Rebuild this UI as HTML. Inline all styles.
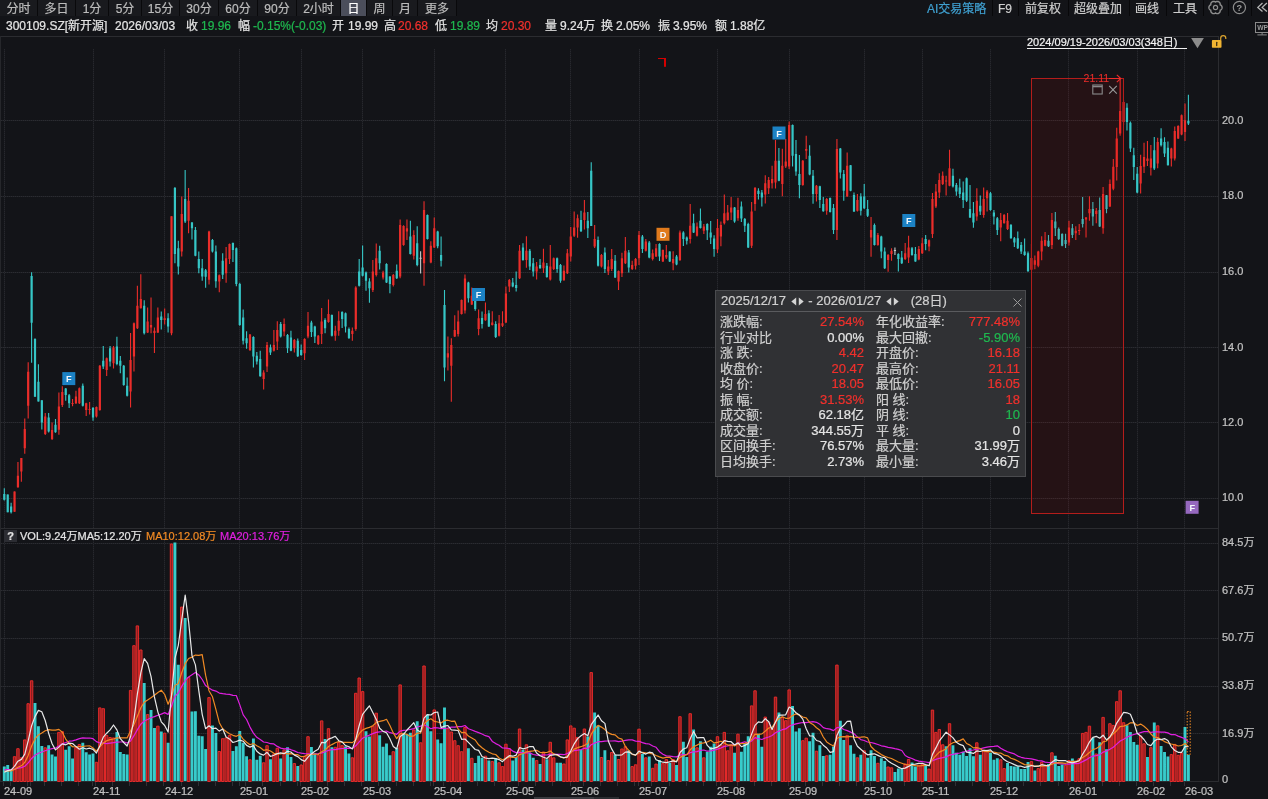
<!DOCTYPE html>
<html lang="zh"><head><meta charset="utf-8"><title>300109.SZ</title>
<style>
html,body{margin:0;padding:0;}
body{width:1268px;height:799px;overflow:hidden;background:#131418;position:relative;font-family:"Liberation Sans","Noto Sans CJK SC",sans-serif;color:#e4e4e4;-webkit-text-stroke:0.22px currentColor;}
#tabs{position:absolute;left:0;top:0;height:16px;width:457px;background:#09090b;}
.tab{position:absolute;top:0;height:16px;line-height:16px;font-size:12px;text-align:center;background:#191a1e;color:#bcbcbc;white-space:nowrap;box-sizing:border-box;padding-top:1px;}
.tab.sel{background:#4b4e5b;color:#fff;}
.inf{position:absolute;top:18px;height:16px;line-height:16px;font-size:12px;white-space:nowrap;}
.tb{position:absolute;top:1px;height:16px;line-height:16px;font-size:12px;white-space:nowrap;}
.tsep{position:absolute;top:0;width:1px;height:16px;background:#08080a;}
.rng{position:absolute;font-size:11px;line-height:11px;height:11px;padding-right:3px;color:#f2f2f2;border-bottom:1px solid #f2f2f2;white-space:nowrap;}
#chart{position:absolute;left:0;top:0;}
.ax{position:absolute;font-size:11px;line-height:14px;height:14px;color:#c2c2c2;white-space:nowrap;}
.q{position:absolute;left:4px;top:530px;width:13px;height:12px;background:#2c2d33;color:#e4e4e4;font-size:11px;font-weight:bold;line-height:12px;text-align:center;}
.lg{position:absolute;top:529px;height:14px;line-height:14px;font-size:11px;white-space:nowrap;}
#pop{position:absolute;left:715px;top:290px;width:309px;height:185px;background:#303134;border:1px solid #4a4b4e;font-size:13px;color:#cfcfcf;}
.ph{position:absolute;left:5px;top:2px;height:16px;line-height:16px;white-space:nowrap;color:#d0d0d0;}
.ar{vertical-align:-0.5px;margin:0 1px;}
.px{position:absolute;right:3.5px;top:7px;}
.pl{position:absolute;left:4px;right:4px;top:20px;height:1px;background:#5a5b5e;}
.pr{position:absolute;left:0;width:309px;height:16px;line-height:16px;white-space:nowrap;}
.pr span{position:absolute;top:0;}
.pr .a{left:4px;}
.pr .b{right:161px;}
.pr .c{left:160px;}
.pr .d{right:5px;}

#root{position:absolute;left:0;top:0;width:1268px;height:799px;overflow:hidden;will-change:transform;}

</style></head>
<body>
<div id="root">
<div id="tabs">
<div class="tab" style="left:0px;width:37px">分时</div>
<div class="tab" style="left:38px;width:37px">多日</div>
<div class="tab" style="left:76px;width:32px">1分</div>
<div class="tab" style="left:109px;width:32px">5分</div>
<div class="tab" style="left:142px;width:37px">15分</div>
<div class="tab" style="left:180px;width:38px">30分</div>
<div class="tab" style="left:219px;width:38px">60分</div>
<div class="tab" style="left:258px;width:38px">90分</div>
<div class="tab" style="left:297px;width:43px">2小时</div>
<div class="tab sel" style="left:341px;width:25px">日</div>
<div class="tab" style="left:367px;width:25px">周</div>
<div class="tab" style="left:393px;width:24px">月</div>
<div class="tab" style="left:418px;width:38px">更多</div>
</div>
<div class="inf" style="left:6px;color:#e4e4e4">300109.SZ[新开源]</div>
<div class="inf" style="left:115px;color:#e4e4e4">2026/03/03</div>
<div class="inf" style="left:186px;color:#e4e4e4">收</div>
<div class="inf" style="left:201px;color:#1fb84f">19.96</div>
<div class="inf" style="left:238px;color:#e4e4e4">幅</div>
<div class="inf" style="left:253px;color:#1fb84f">-0.15%(-0.03)</div>
<div class="inf" style="left:332px;color:#e4e4e4">开</div>
<div class="inf" style="left:348px;color:#e4e4e4">19.99</div>
<div class="inf" style="left:384px;color:#e4e4e4">高</div>
<div class="inf" style="left:398px;color:#f0302c">20.68</div>
<div class="inf" style="left:435px;color:#e4e4e4">低</div>
<div class="inf" style="left:450px;color:#1fb84f">19.89</div>
<div class="inf" style="left:486px;color:#e4e4e4">均</div>
<div class="inf" style="left:501px;color:#f0302c">20.30</div>
<div class="inf" style="left:545px;color:#e4e4e4">量</div>
<div class="inf" style="left:560px;color:#e4e4e4">9.24万</div>
<div class="inf" style="left:601px;color:#e4e4e4">换</div>
<div class="inf" style="left:616px;color:#e4e4e4">2.05%</div>
<div class="inf" style="left:658px;color:#e4e4e4">振</div>
<div class="inf" style="left:673px;color:#e4e4e4">3.95%</div>
<div class="inf" style="left:715px;color:#e4e4e4">额</div>
<div class="inf" style="left:730px;color:#e4e4e4">1.88亿</div>
<div class="tb" style="left:927px;color:#3f9fcf">AI交易策略</div>
<div class="tb" style="left:998px;color:#cecece">F9</div>
<div class="tb" style="left:1025px;color:#cecece">前复权</div>
<div class="tb" style="left:1074px;color:#cecece">超级叠加</div>
<div class="tb" style="left:1135px;color:#cecece">画线</div>
<div class="tb" style="left:1173px;color:#cecece">工具</div>
<div class="tsep" style="left:992px"></div>
<div class="tsep" style="left:1018px"></div>
<div class="tsep" style="left:1068px"></div>
<div class="tsep" style="left:1129px"></div>
<div class="tsep" style="left:1166px"></div>
<div class="tsep" style="left:1203px"></div>
<div class="tsep" style="left:1228px"></div>
<div class="tsep" style="left:1251px"></div>
<div class="rng" style="left:1027px;top:37px">2024/09/19-2026/03/03(348日)&nbsp;&nbsp;</div>
<svg id="chart" width="1268" height="799" viewBox="0 0 1268 799" shape-rendering="crispEdges">
<path d="M0 36.5H1218.5V781.5" stroke="#2b2c30" fill="none"/>
<path d="M0 528.5H1218" stroke="#2b2c30" fill="none"/>
<path d="M0 781.5H1218" stroke="#2b2c30" fill="none"/>
<path d="M0.5 36V781" stroke="#26272b" fill="none"/>
<path d="M1 498.5H1218M1 422.5H1218M1 347.5H1218M1 272.5H1218M1 196.5H1218M1 120.5H1218M1 733.5H1218M1 686.5H1218M1 638.5H1218M1 590.5H1218M1 543.5H1218" stroke="#1e1f24" fill="none"/>
<path d="M1 498.5H1218M1 422.5H1218M1 347.5H1218M1 272.5H1218M1 196.5H1218M1 120.5H1218M1 733.5H1218M1 686.5H1218M1 638.5H1218M1 590.5H1218M1 543.5H1218" stroke="#2b2c31" stroke-dasharray="1 1" fill="none"/>
<path d="M4.5 49V528M4.5 530V781M93.5 49V528M93.5 530V781M164.5 49V528M164.5 530V781M239.5 49V528M239.5 530V781M301.5 49V528M301.5 530V781M362.5 49V528M362.5 530V781M434.5 49V528M434.5 530V781M505.5 49V528M505.5 530V781M570.5 49V528M570.5 530V781M639.5 49V528M639.5 530V781M717.5 49V528M717.5 530V781M789.5 49V528M789.5 530V781M864.5 49V528M864.5 530V781M922.5 49V528M922.5 530V781M990.5 49V528M990.5 530V781M1068.5 49V528M1068.5 530V781M1137.5 49V528M1137.5 530V781M1184.5 49V528M1184.5 530V781" stroke="#1b1c21" fill="none"/>
<path d="M4.5 49V528M4.5 530V781M93.5 49V528M93.5 530V781M164.5 49V528M164.5 530V781M239.5 49V528M239.5 530V781M301.5 49V528M301.5 530V781M362.5 49V528M362.5 530V781M434.5 49V528M434.5 530V781M505.5 49V528M505.5 530V781M570.5 49V528M570.5 530V781M639.5 49V528M639.5 530V781M717.5 49V528M717.5 530V781M789.5 49V528M789.5 530V781M864.5 49V528M864.5 530V781M922.5 49V528M922.5 530V781M990.5 49V528M990.5 530V781M1068.5 49V528M1068.5 530V781M1137.5 49V528M1137.5 530V781M1184.5 49V528M1184.5 530V781" stroke="#27282d" stroke-dasharray="1 1" fill="none"/>
<path d="M3.5 782V786M10.5 782V786M27.5 782V786M30.5 782V786M44.5 782V786M61.5 782V786M78.5 782V786M92.5 782V786M95.5 782V786M112.5 782V786M129.5 782V786M146.5 782V786M163.5 782V786M181.5 782V786M198.5 782V786M215.5 782V786M232.5 782V786M239.5 782V786M245.5 782V786M262.5 782V786M280.5 782V786M297.5 782V786M300.5 782V786M310.5 782V786M327.5 782V786M344.5 782V786M361.5 782V786M378.5 782V786M396.5 782V786M413.5 782V786M430.5 782V786M433.5 782V786M443.5 782V786M460.5 782V786M477.5 782V786M494.5 782V786M505.5 782V786M518.5 782V786M535.5 782V786M552.5 782V786M570.5 782V786M583.5 782V786M600.5 782V786M617.5 782V786M634.5 782V786M638.5 782V786M651.5 782V786M669.5 782V786M686.5 782V786M703.5 782V786M716.5 782V786M720.5 782V786M737.5 782V786M754.5 782V786M771.5 782V786M788.5 782V786M805.5 782V786M822.5 782V786M839.5 782V786M856.5 782V786M863.5 782V786M870.5 782V786M887.5 782V786M904.5 782V786M921.5 782V786M938.5 782V786M955.5 782V786M972.5 782V786M989.5 782V786M1006.5 782V786M1023.5 782V786M1040.5 782V786M1058.5 782V786M1068.5 782V786M1085.5 782V786M1102.5 782V786M1119.5 782V786M1136.5 782V786M1153.5 782V786M1170.5 782V786M1184.5 782V786" stroke="#303136" fill="none"/>
<rect x="534" y="797" width="85" height="2" fill="#2c2d31"/><rect x="534" y="797" width="60" height="2" fill="#3a3b40"/>
<g shape-rendering="auto">
<path d="M14.54 491.5V511.8M17.95 461.9V487.8M21.36 457.9V481.8M24.77 418.6V453.7M28.19 362.2V418.6M45.25 413.0V434.9M52.07 422.6V439.9M58.90 392.4V434.8M62.31 386.2V406.9M72.55 399.0V406.2M75.96 390.7V404.0M79.37 387.4V404.0M86.20 402.7V416.0M89.61 401.9V414.5M96.43 406.5V417.4M99.85 364.9V410.7M106.67 357.5V376.1M113.50 346.1V368.6M130.56 333.0V407.4M133.97 322.4V371.5M137.38 285.8V329.1M140.80 274.2V308.6M147.62 307.4V332.9M151.03 297.5V333.2M154.45 327.4V352.9M157.86 307.4V332.9M164.68 308.6V324.6M171.51 216.3V335.2M181.74 196.6V256.5M188.57 188.0V233.2M209.04 230.7V284.5M219.28 274.5V292.3M226.11 246.9V282.8M229.52 243.6V264.0M249.99 334.1V350.7M263.64 370.2V389.5M267.05 341.9V372.0M273.88 329.9V351.6M277.29 321.3V349.9M284.12 318.6V336.2M294.35 339.1V352.4M304.59 338.2V359.9M308.00 311.9V338.2M318.24 334.9V344.9M321.65 307.9V344.1M328.48 299.5V322.8M335.30 325.8V340.7M338.72 311.3V335.7M352.36 327.4V340.7M355.78 286.3V330.7M372.84 259.9V291.9M376.25 243.6V276.5M383.08 270.7V279.5M393.31 274.1V286.5M400.14 219.5V278.2M403.55 225.3V245.8M406.96 219.5V239.9M413.79 230.3V259.6M424.03 201.3V285.7M430.85 241.3V263.2M434.26 217.5V247.9M447.91 336.6V370.4M451.32 338.2V401.8M454.74 315.3V336.9M458.15 310.5V336.6M461.56 299.6V314.6M464.97 274.4V313.6M471.80 287.5V305.0M478.62 309.5V335.3M485.45 302.5V320.8M492.27 311.3V325.4M499.10 314.9V336.6M502.51 311.3V327.1M505.92 286.6V323.1M509.34 279.0V292.0M519.57 244.9V279.0M526.40 236.3V267.7M536.63 262.1V279.6M543.46 248.8V272.9M550.28 244.9V280.4M553.70 257.4V269.9M563.93 265.4V280.7M567.35 249.1V274.1M570.76 227.1V261.6M574.17 211.6V237.1M577.58 214.5V237.8M584.41 200.0V229.5M594.65 225.0V247.9M601.47 254.1V267.4M608.29 259.9V275.0M611.71 249.1V271.0M618.53 270.4V290.0M621.94 252.7V276.9M625.36 237.1V264.0M632.18 260.7V269.9M635.59 257.9V269.5M639.01 231.1V264.9M645.83 239.1V251.6M652.66 249.4V260.4M656.07 244.1V256.9M662.89 249.4V261.9M666.31 244.9V259.1M673.13 251.2V270.2M679.96 230.4V261.1M690.19 204.1V243.6M697.02 222.4V236.6M703.84 224.1V234.1M717.49 218.9V252.9M720.90 221.6V246.2M724.32 194.6V224.6M727.73 204.9V220.7M731.14 197.1V219.9M737.97 197.8V220.7M751.62 201.9V247.9M755.03 186.9V210.8M765.27 175.3V203.6M768.68 177.1V194.1M772.09 165.8V188.6M775.50 139.9V188.5M782.33 148.8V196.3M785.74 139.1V168.0M789.15 121.6V169.1M802.80 159.9V185.7M806.21 135.8V159.1M816.45 184.9V201.5M826.69 197.9V214.7M836.93 139.1V239.9M847.16 152.4V196.7M857.40 194.0V211.6M871.05 216.9V256.8M877.87 232.9V245.7M888.11 254.0V271.8M891.52 248.2V260.7M905.17 242.9V259.9M908.59 235.7V262.9M918.82 246.0V260.2M922.24 237.7V254.0M929.06 239.4V251.2M932.47 192.9V237.9M935.89 184.1V207.9M939.30 173.3V197.9M942.71 171.6V184.9M946.12 175.8V195.4M949.53 149.7V186.3M976.83 188.3V220.7M983.66 187.4V217.7M987.07 189.9V211.6M1000.72 212.9V241.2M1004.13 214.1V223.6M1007.55 212.9V229.9M1031.43 244.0V270.3M1034.84 255.5V269.3M1038.26 250.7V267.3M1041.67 236.2V260.2M1045.08 231.9V246.2M1051.91 212.9V249.0M1068.97 220.7V245.4M1075.79 226.2V239.9M1079.21 224.1V234.9M1086.03 217.1V237.4M1089.44 196.3V220.7M1096.27 207.9V223.2M1103.09 186.9V233.7M1109.92 179.5V207.1M1113.33 159.1V190.3M1116.74 127.8V180.4M1120.15 78.3V135.7M1123.57 100.3V125.3M1140.63 154.8V193.5M1144.04 142.7V173.1M1147.45 141.1V166.0M1150.87 144.9V175.5M1157.69 137.7V168.2M1171.34 147.7V166.5M1174.75 126.6V160.6M1178.17 125.3V139.1M1181.58 114.5V135.2M1184.99 103.6V141.1" stroke="#ea2d2a" stroke-width="1.1" fill="none"/>
<path d="M13.44 491.5h2.2V511.8h-2.2zM16.85 475.7h2.2V487.3h-2.2zM20.26 457.9h2.2V471.5h-2.2zM23.67 429.1h2.2V448.2h-2.2zM27.09 371.8h2.2V405.8h-2.2zM44.15 416.6h2.2V434.0h-2.2zM50.97 430.0h2.2V439.0h-2.2zM57.80 406.5h2.2V429.8h-2.2zM61.21 392.0h2.2V405.0h-2.2zM71.45 403.0h2.2V404.0h-2.2zM74.86 396.5h2.2V403.2h-2.2zM78.27 388.2h2.2V403.2h-2.2zM85.10 403.2h2.2V409.9h-2.2zM88.51 409.0h2.2V410.0h-2.2zM95.33 407.0h2.2V416.5h-2.2zM98.75 365.8h2.2V409.9h-2.2zM105.57 358.3h2.2V369.9h-2.2zM112.40 347.5h2.2V363.3h-2.2zM129.46 360.0h2.2V391.6h-2.2zM132.87 323.3h2.2V356.5h-2.2zM136.28 305.8h2.2V328.3h-2.2zM139.70 299.1h2.2V308.3h-2.2zM146.52 321.6h2.2V332.4h-2.2zM149.93 324.9h2.2V327.4h-2.2zM153.35 330.8h2.2V333.0h-2.2zM156.76 317.4h2.2V332.4h-2.2zM163.58 318.3h2.2V320.0h-2.2zM170.41 216.3h2.2V333.2h-2.2zM180.64 214.1h2.2V251.6h-2.2zM187.47 200.8h2.2V220.8h-2.2zM207.94 231.6h2.2V279.8h-2.2zM218.18 275.2h2.2V281.5h-2.2zM225.01 258.2h2.2V273.2h-2.2zM228.42 244.1h2.2V259.0h-2.2zM248.89 334.6h2.2V350.2h-2.2zM262.54 372.4h2.2V379.0h-2.2zM265.95 344.9h2.2V366.5h-2.2zM272.78 344.9h2.2V350.7h-2.2zM276.19 329.9h2.2V341.6h-2.2zM283.02 324.1h2.2V331.6h-2.2zM293.25 339.9h2.2V348.2h-2.2zM303.49 339.1h2.2V353.2h-2.2zM306.90 325.8h2.2V336.6h-2.2zM317.14 335.7h2.2V344.1h-2.2zM320.55 321.6h2.2V334.1h-2.2zM327.38 314.1h2.2V321.9h-2.2zM334.20 330.7h2.2V335.7h-2.2zM337.62 320.8h2.2V330.7h-2.2zM351.26 330.7h2.2V334.1h-2.2zM354.68 287.5h2.2V329.1h-2.2zM371.74 271.6h2.2V289.9h-2.2zM375.15 258.2h2.2V274.9h-2.2zM381.98 272.4h2.2V277.4h-2.2zM392.21 274.9h2.2V284.9h-2.2zM399.04 225.0h2.2V276.5h-2.2zM402.45 226.0h2.2V245.0h-2.2zM405.86 228.3h2.2V231.6h-2.2zM412.69 234.9h2.2V255.7h-2.2zM422.93 210.0h2.2V263.2h-2.2zM429.75 245.8h2.2V262.4h-2.2zM433.16 228.3h2.2V247.4h-2.2zM446.81 353.2h2.2V357.4h-2.2zM450.22 344.9h2.2V365.7h-2.2zM453.64 329.9h2.2V336.6h-2.2zM457.05 321.6h2.2V334.1h-2.2zM460.46 300.0h2.2V314.1h-2.2zM463.87 278.6h2.2V310.4h-2.2zM470.70 295.8h2.2V304.6h-2.2zM477.52 318.3h2.2V329.1h-2.2zM484.35 314.1h2.2V320.3h-2.2zM491.17 322.4h2.2V324.9h-2.2zM498.00 323.3h2.2V335.8h-2.2zM501.41 323.3h2.2V325.8h-2.2zM504.82 293.6h2.2V322.4h-2.2zM508.24 280.0h2.2V286.6h-2.2zM518.47 250.8h2.2V278.2h-2.2zM525.30 250.8h2.2V259.9h-2.2zM535.53 266.6h2.2V271.6h-2.2zM542.36 262.4h2.2V268.2h-2.2zM549.18 266.6h2.2V279.6h-2.2zM552.60 258.2h2.2V269.1h-2.2zM562.83 270.7h2.2V280.2h-2.2zM566.25 253.3h2.2V273.2h-2.2zM569.66 236.6h2.2V256.6h-2.2zM573.07 227.5h2.2V235.8h-2.2zM576.48 218.3h2.2V227.5h-2.2zM583.31 212.5h2.2V220.0h-2.2zM593.55 239.1h2.2V246.6h-2.2zM600.37 254.9h2.2V266.6h-2.2zM607.19 266.5h2.2V271.5h-2.2zM610.61 259.1h2.2V269.0h-2.2zM617.43 271.0h2.2V281.5h-2.2zM620.84 258.2h2.2V273.2h-2.2zM624.26 250.7h2.2V263.2h-2.2zM631.08 264.9h2.2V269.0h-2.2zM634.49 259.0h2.2V265.7h-2.2zM637.91 234.9h2.2V258.2h-2.2zM644.73 241.6h2.2V250.7h-2.2zM651.56 253.2h2.2V259.0h-2.2zM654.97 248.2h2.2V256.6h-2.2zM661.79 250.0h2.2V261.5h-2.2zM665.21 254.9h2.2V257.4h-2.2zM672.03 259.1h2.2V263.2h-2.2zM678.86 232.4h2.2V259.9h-2.2zM689.09 225.8h2.2V239.1h-2.2zM695.92 226.6h2.2V235.7h-2.2zM702.74 226.6h2.2V230.7h-2.2zM716.39 228.0h2.2V249.5h-2.2zM719.80 224.9h2.2V236.6h-2.2zM723.22 213.2h2.2V223.2h-2.2zM726.63 212.4h2.2V219.9h-2.2zM730.04 207.4h2.2V212.4h-2.2zM736.87 209.9h2.2V218.2h-2.2zM750.52 211.6h2.2V245.7h-2.2zM753.93 188.0h2.2V204.1h-2.2zM764.17 183.3h2.2V194.5h-2.2zM767.58 180.0h2.2V188.3h-2.2zM770.99 179.1h2.2V183.3h-2.2zM774.40 160.8h2.2V182.5h-2.2zM781.23 165.8h2.2V184.1h-2.2zM784.64 161.6h2.2V166.6h-2.2zM788.05 125.0h2.2V166.6h-2.2zM801.70 160.8h2.2V184.9h-2.2zM805.11 149.1h2.2V150.8h-2.2zM815.35 185.7h2.2V194.0h-2.2zM825.59 199.0h2.2V210.7h-2.2zM835.83 149.1h2.2V229.9h-2.2zM846.06 165.7h2.2V196.4h-2.2zM856.30 199.9h2.2V210.7h-2.2zM869.95 229.9h2.2V237.4h-2.2zM876.77 234.9h2.2V244.9h-2.2zM887.01 254.9h2.2V259.9h-2.2zM890.42 250.7h2.2V254.0h-2.2zM904.07 253.2h2.2V259.0h-2.2zM907.49 247.4h2.2V257.4h-2.2zM917.72 249.0h2.2V259.5h-2.2zM921.14 243.2h2.2V253.2h-2.2zM927.96 240.2h2.2V246.5h-2.2zM931.37 199.1h2.2V234.0h-2.2zM934.79 191.6h2.2V206.6h-2.2zM938.20 179.9h2.2V192.4h-2.2zM941.61 175.8h2.2V184.1h-2.2zM945.02 180.6h2.2V181.6h-2.2zM948.43 168.3h2.2V185.8h-2.2zM975.73 200.8h2.2V216.6h-2.2zM982.56 199.1h2.2V214.9h-2.2zM985.97 191.6h2.2V198.3h-2.2zM999.62 219.9h2.2V227.4h-2.2zM1003.03 214.9h2.2V223.2h-2.2zM1006.45 220.7h2.2V229.1h-2.2zM1030.33 258.0h2.2V269.8h-2.2zM1033.74 260.3h2.2V264.8h-2.2zM1037.16 251.5h2.2V265.7h-2.2zM1040.57 240.7h2.2V251.5h-2.2zM1043.98 239.9h2.2V245.7h-2.2zM1050.81 219.9h2.2V244.9h-2.2zM1067.87 227.4h2.2V242.4h-2.2zM1074.69 230.7h2.2V233.2h-2.2zM1078.11 230.0h2.2V231.0h-2.2zM1084.93 217.5h2.2V219.5h-2.2zM1088.34 209.1h2.2V213.2h-2.2zM1095.17 210.7h2.2V214.1h-2.2zM1101.99 194.1h2.2V228.2h-2.2zM1108.82 184.1h2.2V206.6h-2.2zM1112.23 166.8h2.2V188.8h-2.2zM1115.64 138.6h2.2V166.9h-2.2zM1119.05 111.1h2.2V133.6h-2.2zM1122.47 102.0h2.2V122.0h-2.2zM1139.53 166.0h2.2V183.4h-2.2zM1142.94 156.9h2.2V166.8h-2.2zM1146.35 158.6h2.2V161.0h-2.2zM1149.77 158.6h2.2V167.7h-2.2zM1156.59 141.9h2.2V163.5h-2.2zM1170.24 148.6h2.2V158.6h-2.2zM1173.65 131.1h2.2V158.6h-2.2zM1177.07 126.0h2.2V138.5h-2.2zM1180.48 115.2h2.2V134.4h-2.2zM1183.89 120.3h2.2V131.9h-2.2z" fill="#ea2d2a"/>
<path d="M4.30 488.2V500.6M7.71 494.5V512.3M11.12 502.8V513.5M31.60 272.3V362.7M35.01 338.2V396.7M38.42 364.3V401.6M41.84 400.3V429.6M48.66 413.0V432.4M55.49 419.0V432.8M65.72 387.9V400.7M69.14 394.0V407.9M82.79 383.6V406.5M93.02 406.9V420.7M103.26 346.1V369.1M110.08 346.1V366.6M116.91 336.7V365.3M120.32 356.1V373.3M123.73 364.9V385.7M127.15 377.4V396.6M144.21 300.3V334.6M161.27 311.6V329.6M168.10 313.3V332.4M174.92 187.1V263.2M178.33 240.7V274.5M185.16 170.0V222.9M191.98 222.1V239.6M195.39 227.1V256.2M198.81 251.5V273.2M202.22 259.0V280.7M205.63 269.0V287.8M212.46 239.1V252.4M215.87 245.4V287.8M222.69 253.2V279.0M232.93 242.4V262.0M236.34 247.4V286.2M239.76 282.8V325.8M243.17 309.6V344.6M246.58 331.2V348.7M253.41 336.2V367.4M256.82 351.9V364.5M260.23 350.7V376.8M270.47 344.6V354.9M280.70 322.1V337.4M287.53 334.1V352.9M290.94 330.7V351.2M297.77 338.6V356.9M301.18 344.6V355.7M311.42 320.8V336.9M314.83 325.8V342.9M325.07 318.3V333.2M331.89 314.6V336.6M342.13 311.3V327.9M345.54 312.4V332.4M348.95 327.4V339.1M359.19 259.1V286.5M362.60 245.4V276.5M366.01 271.6V290.7M369.43 278.2V302.8M379.66 245.8V269.6M386.49 263.2V282.9M389.90 276.2V293.2M396.73 264.6V279.0M410.38 220.8V254.6M417.20 226.3V266.2M427.44 214.6V239.6M437.67 230.8V248.3M441.09 236.6V266.6M444.50 290.0V381.2M468.39 281.7V302.5M475.21 300.0V310.8M482.04 311.6V328.6M488.86 310.3V327.1M495.69 321.3V337.9M512.75 278.0V287.2M516.16 271.6V291.4M522.98 243.3V260.7M529.81 249.1V269.9M533.22 257.9V276.6M540.05 259.1V268.7M546.87 262.9V277.7M557.11 257.4V272.7M560.52 264.1V282.7M581.00 210.8V232.0M587.82 212.0V237.9M591.23 162.3V226.0M598.06 236.6V266.6M604.88 247.4V273.0M615.12 254.9V278.0M628.77 249.9V272.4M642.42 234.9V252.9M649.24 241.1V258.2M659.48 243.2V261.1M669.72 251.2V261.9M676.54 254.9V265.2M683.37 231.3V246.1M686.78 236.6V244.6M693.60 213.8V232.9M700.43 208.6V228.6M707.25 223.3V239.9M710.67 221.0V244.1M714.08 235.2V256.7M734.55 206.9V222.7M741.38 201.6V222.1M744.79 217.9V231.9M748.20 222.7V247.9M758.44 188.3V199.6M761.85 189.9V206.6M778.91 147.9V181.3M792.56 124.6V166.6M795.98 139.9V175.7M799.39 154.9V198.2M809.63 145.3V175.2M813.04 169.9V203.7M819.86 185.7V207.9M823.28 197.0V211.8M830.10 197.4V212.6M833.51 204.0V234.0M840.34 147.9V178.6M843.75 169.9V200.8M850.58 164.9V191.2M853.99 192.4V212.0M860.81 193.3V215.4M864.22 184.1V209.1M867.64 199.9V216.9M874.46 223.6V245.4M881.29 235.7V258.2M884.70 247.4V269.0M898.35 253.2V271.5M901.76 251.0V264.0M912.00 246.9V255.7M915.41 246.9V261.8M925.65 234.9V250.2M952.95 168.8V187.4M956.36 182.9V195.8M959.77 178.8V197.9M963.18 181.6V207.9M966.60 177.5V201.9M970.01 184.9V217.9M973.42 201.9V227.7M980.25 195.4V214.9M990.48 192.1V210.7M993.90 209.9V224.6M997.31 216.9V234.9M1010.96 224.1V238.7M1014.37 236.9V246.9M1017.78 231.6V249.0M1021.20 241.9V254.0M1024.61 238.5V255.7M1028.02 251.5V271.8M1048.49 234.9V247.0M1055.32 211.9V236.0M1058.73 227.4V239.9M1062.14 233.2V246.2M1065.56 233.7V247.9M1072.38 224.1V237.9M1082.62 197.1V227.4M1092.86 202.1V225.7M1099.68 197.4V226.9M1106.51 194.9V213.2M1126.98 103.3V130.6M1130.39 121.6V151.9M1133.80 147.7V179.9M1137.22 166.9V193.2M1154.28 136.9V169.9M1161.10 128.3V146.6M1164.52 137.2V156.9M1167.93 141.4V165.5M1188.40 94.8V124.9" stroke="#36c6c6" stroke-width="1.1" fill="none"/>
<path d="M3.20 494.0h2.2V499.8h-2.2zM6.61 494.5h2.2V512.3h-2.2zM10.02 506.5h2.2V512.3h-2.2zM30.50 276.1h2.2V322.7h-2.2zM33.91 339.0h2.2V396.7h-2.2zM37.32 381.8h2.2V401.6h-2.2zM40.74 400.3h2.2V422.4h-2.2zM47.56 417.5h2.2V431.6h-2.2zM54.39 424.8h2.2V432.3h-2.2zM64.62 388.6h2.2V394.9h-2.2zM68.04 395.2h2.2V403.2h-2.2zM81.69 385.7h2.2V405.7h-2.2zM91.92 407.9h2.2V417.4h-2.2zM102.16 360.8h2.2V366.6h-2.2zM108.98 348.3h2.2V361.6h-2.2zM115.81 346.6h2.2V364.1h-2.2zM119.22 360.8h2.2V365.8h-2.2zM122.63 365.8h2.2V384.9h-2.2zM126.05 385.7h2.2V395.7h-2.2zM143.11 305.8h2.2V333.2h-2.2zM160.17 316.6h2.2V319.9h-2.2zM167.00 318.3h2.2V326.6h-2.2zM173.82 188.0h2.2V254.0h-2.2zM177.23 248.2h2.2V266.5h-2.2zM184.06 199.1h2.2V221.6h-2.2zM190.88 222.4h2.2V228.2h-2.2zM194.29 229.9h2.2V255.7h-2.2zM197.71 259.0h2.2V268.2h-2.2zM201.12 268.2h2.2V276.5h-2.2zM204.53 270.2h2.2V276.8h-2.2zM211.36 239.9h2.2V251.5h-2.2zM214.77 251.5h2.2V281.2h-2.2zM221.59 260.7h2.2V274.8h-2.2zM231.83 242.9h2.2V249.9h-2.2zM235.24 248.2h2.2V284.0h-2.2zM238.66 284.1h2.2V324.9h-2.2zM242.07 317.4h2.2V340.7h-2.2zM245.48 338.2h2.2V343.2h-2.2zM252.31 336.9h2.2V356.5h-2.2zM255.72 355.7h2.2V361.5h-2.2zM259.13 359.0h2.2V376.2h-2.2zM269.37 347.4h2.2V352.4h-2.2zM279.60 324.1h2.2V336.6h-2.2zM286.43 334.9h2.2V348.2h-2.2zM289.84 337.4h2.2V350.7h-2.2zM296.67 340.7h2.2V356.2h-2.2zM300.08 349.9h2.2V354.9h-2.2zM310.32 322.4h2.2V332.0h-2.2zM313.73 326.6h2.2V336.6h-2.2zM323.97 319.9h2.2V328.2h-2.2zM330.79 314.9h2.2V335.7h-2.2zM341.03 311.9h2.2V319.1h-2.2zM344.44 313.3h2.2V326.6h-2.2zM347.85 329.1h2.2V337.9h-2.2zM358.09 271.6h2.2V285.7h-2.2zM361.50 267.4h2.2V275.7h-2.2zM364.91 272.4h2.2V280.7h-2.2zM368.33 281.5h2.2V288.2h-2.2zM378.56 250.7h2.2V263.2h-2.2zM385.39 264.1h2.2V282.4h-2.2zM388.80 276.5h2.2V284.0h-2.2zM395.63 270.7h2.2V278.2h-2.2zM409.28 236.6h2.2V254.1h-2.2zM416.10 243.3h2.2V264.9h-2.2zM426.34 215.0h2.2V239.1h-2.2zM436.57 231.6h2.2V246.3h-2.2zM439.99 254.9h2.2V260.7h-2.2zM443.40 305.0h2.2V367.4h-2.2zM467.29 282.5h2.2V298.3h-2.2zM474.11 300.3h2.2V309.1h-2.2zM480.94 317.9h2.2V324.1h-2.2zM487.76 313.3h2.2V326.6h-2.2zM494.59 324.1h2.2V336.9h-2.2zM511.65 282.4h2.2V286.5h-2.2zM515.06 285.0h2.2V288.0h-2.2zM521.88 247.4h2.2V259.9h-2.2zM528.71 250.8h2.2V266.6h-2.2zM532.12 263.2h2.2V271.6h-2.2zM538.95 264.9h2.2V268.2h-2.2zM545.77 265.7h2.2V276.9h-2.2zM556.01 258.2h2.2V269.1h-2.2zM559.42 264.9h2.2V280.7h-2.2zM579.90 220.0h2.2V231.3h-2.2zM586.72 220.8h2.2V228.3h-2.2zM590.13 170.7h2.2V225.9h-2.2zM596.96 239.9h2.2V265.7h-2.2zM603.78 252.4h2.2V269.0h-2.2zM614.02 260.7h2.2V277.4h-2.2zM627.67 252.4h2.2V267.4h-2.2zM641.32 236.6h2.2V249.1h-2.2zM648.14 242.4h2.2V257.4h-2.2zM658.38 244.1h2.2V256.6h-2.2zM668.62 251.5h2.2V261.5h-2.2zM675.44 256.6h2.2V264.6h-2.2zM682.27 232.4h2.2V239.1h-2.2zM685.68 237.4h2.2V240.7h-2.2zM692.50 223.3h2.2V232.4h-2.2zM699.33 220.8h2.2V227.9h-2.2zM706.15 224.1h2.2V230.3h-2.2zM709.57 232.4h2.2V237.6h-2.2zM712.98 238.5h2.2V249.1h-2.2zM733.45 207.4h2.2V221.6h-2.2zM740.28 206.6h2.2V218.6h-2.2zM743.69 219.1h2.2V225.7h-2.2zM747.10 224.1h2.2V247.4h-2.2zM757.34 190.8h2.2V194.1h-2.2zM760.75 192.4h2.2V197.4h-2.2zM777.81 160.8h2.2V180.8h-2.2zM791.46 125.0h2.2V155.8h-2.2zM794.88 154.1h2.2V171.6h-2.2zM798.29 174.1h2.2V184.9h-2.2zM808.53 155.8h2.2V174.6h-2.2zM811.94 175.7h2.2V194.0h-2.2zM818.76 186.2h2.2V199.9h-2.2zM822.18 204.0h2.2V211.2h-2.2zM829.00 198.0h2.2V212.0h-2.2zM832.41 207.9h2.2V229.9h-2.2zM839.24 148.6h2.2V172.4h-2.2zM842.65 174.1h2.2V190.7h-2.2zM849.48 165.3h2.2V190.8h-2.2zM852.89 194.9h2.2V211.6h-2.2zM859.71 196.6h2.2V210.7h-2.2zM863.12 196.6h2.2V208.2h-2.2zM866.54 209.1h2.2V215.7h-2.2zM873.36 224.9h2.2V244.9h-2.2zM880.19 236.5h2.2V251.5h-2.2zM883.60 251.5h2.2V268.2h-2.2zM897.25 254.0h2.2V259.0h-2.2zM900.66 257.4h2.2V263.2h-2.2zM910.90 248.2h2.2V254.9h-2.2zM914.31 254.0h2.2V261.5h-2.2zM924.55 239.0h2.2V244.0h-2.2zM951.85 175.8h2.2V186.6h-2.2zM955.26 184.9h2.2V191.6h-2.2zM958.67 187.4h2.2V194.1h-2.2zM962.08 192.4h2.2V199.9h-2.2zM965.50 178.3h2.2V200.8h-2.2zM968.91 209.1h2.2V217.4h-2.2zM972.32 213.2h2.2V222.4h-2.2zM979.15 205.8h2.2V211.6h-2.2zM989.38 193.3h2.2V209.9h-2.2zM992.80 212.4h2.2V216.6h-2.2zM996.21 218.2h2.2V229.9h-2.2zM1009.86 224.9h2.2V238.2h-2.2zM1013.27 238.2h2.2V242.4h-2.2zM1016.68 238.2h2.2V248.2h-2.2zM1020.10 244.9h2.2V251.5h-2.2zM1023.51 251.5h2.2V254.9h-2.2zM1026.92 253.2h2.2V271.2h-2.2zM1047.39 240.7h2.2V246.2h-2.2zM1054.22 221.6h2.2V228.2h-2.2zM1057.63 229.0h2.2V239.0h-2.2zM1061.04 234.0h2.2V245.7h-2.2zM1064.46 239.9h2.2V244.0h-2.2zM1071.28 228.2h2.2V234.9h-2.2zM1081.52 219.1h2.2V224.1h-2.2zM1091.76 209.1h2.2V216.6h-2.2zM1098.58 209.9h2.2V226.6h-2.2zM1105.41 195.3h2.2V209.1h-2.2zM1125.88 107.8h2.2V121.9h-2.2zM1129.29 122.8h2.2V148.6h-2.2zM1132.70 155.2h2.2V166.9h-2.2zM1136.12 173.8h2.2V192.6h-2.2zM1153.18 150.2h2.2V168.5h-2.2zM1160.00 138.6h2.2V145.2h-2.2zM1163.42 141.9h2.2V153.6h-2.2zM1166.83 147.7h2.2V165.2h-2.2zM1187.30 121.0h2.2V123.5h-2.2z" fill="#36c6c6"/>
<path d="M420.61 251.2V273.6M894.94 247.4V254.9" stroke="#c8c8c8" stroke-width="1.1" fill="none"/>
<path d="M419.51 257.8h2.2V258.8h-2.2zM893.84 250.0h2.2V251.0h-2.2z" fill="#c8c8c8"/>
</g>
<rect x="1031.5" y="78.5" width="92" height="435" fill="rgba(235,0,0,0.085)" stroke="#b41d1b"/>
<g shape-rendering="auto">
<path d="M13.34 756.7h2.4V781.5h-2.4zM16.75 748.7h2.4V781.5h-2.4zM20.16 757.8h2.4V781.5h-2.4zM23.57 739.9h2.4V781.5h-2.4zM26.99 703.7h2.4V781.5h-2.4zM30.40 680.8h2.4V781.5h-2.4zM44.05 747.8h2.4V781.5h-2.4zM57.70 732.4h2.4V781.5h-2.4zM61.11 731.7h2.4V781.5h-2.4zM74.76 747.8h2.4V781.5h-2.4zM78.17 744.5h2.4V781.5h-2.4zM95.23 762.3h2.4V781.5h-2.4zM98.65 707.9h2.4V781.5h-2.4zM102.06 708.7h2.4V781.5h-2.4zM105.47 735.4h2.4V781.5h-2.4zM108.88 737.5h2.4V781.5h-2.4zM112.30 737.9h2.4V781.5h-2.4zM129.36 690.4h2.4V781.5h-2.4zM132.77 645.7h2.4V781.5h-2.4zM136.18 625.9h2.4V781.5h-2.4zM139.60 650.0h2.4V781.5h-2.4zM146.42 714.6h2.4V781.5h-2.4zM156.66 726.2h2.4V781.5h-2.4zM163.48 733.2h2.4V781.5h-2.4zM170.31 544.0h2.4V781.5h-2.4zM180.54 607.1h2.4V781.5h-2.4zM187.37 677.5h2.4V781.5h-2.4zM207.84 697.6h2.4V781.5h-2.4zM218.08 751.5h2.4V781.5h-2.4zM221.49 738.7h2.4V781.5h-2.4zM224.91 737.9h2.4V781.5h-2.4zM228.32 735.4h2.4V781.5h-2.4zM248.79 759.8h2.4V781.5h-2.4zM262.44 762.8h2.4V781.5h-2.4zM265.85 745.7h2.4V781.5h-2.4zM272.68 754.0h2.4V781.5h-2.4zM276.09 748.3h2.4V781.5h-2.4zM282.92 750.0h2.4V781.5h-2.4zM293.15 763.6h2.4V781.5h-2.4zM299.98 765.0h2.4V781.5h-2.4zM303.39 756.2h2.4V781.5h-2.4zM306.80 736.7h2.4V781.5h-2.4zM317.04 755.0h2.4V781.5h-2.4zM320.45 720.9h2.4V781.5h-2.4zM327.28 728.7h2.4V781.5h-2.4zM334.10 747.3h2.4V781.5h-2.4zM337.52 742.5h2.4V781.5h-2.4zM340.93 745.7h2.4V781.5h-2.4zM351.16 757.8h2.4V781.5h-2.4zM354.58 693.3h2.4V781.5h-2.4zM357.99 678.0h2.4V781.5h-2.4zM361.40 691.6h2.4V781.5h-2.4zM371.64 726.2h2.4V781.5h-2.4zM375.05 713.2h2.4V781.5h-2.4zM392.11 751.7h2.4V781.5h-2.4zM398.94 684.9h2.4V781.5h-2.4zM412.59 730.0h2.4V781.5h-2.4zM419.41 742.8h2.4V781.5h-2.4zM422.83 666.0h2.4V781.5h-2.4zM433.06 709.9h2.4V781.5h-2.4zM446.71 728.7h2.4V781.5h-2.4zM450.12 732.0h2.4V781.5h-2.4zM453.54 740.7h2.4V781.5h-2.4zM456.95 745.7h2.4V781.5h-2.4zM460.36 751.7h2.4V781.5h-2.4zM463.77 727.5h2.4V781.5h-2.4zM470.60 758.3h2.4V781.5h-2.4zM484.25 756.2h2.4V781.5h-2.4zM491.07 761.6h2.4V781.5h-2.4zM497.90 762.8h2.4V781.5h-2.4zM501.31 766.6h2.4V781.5h-2.4zM504.72 744.2h2.4V781.5h-2.4zM508.14 748.7h2.4V781.5h-2.4zM518.37 729.0h2.4V781.5h-2.4zM525.20 744.8h2.4V781.5h-2.4zM535.43 760.6h2.4V781.5h-2.4zM542.26 752.0h2.4V781.5h-2.4zM549.08 742.3h2.4V781.5h-2.4zM552.50 757.8h2.4V781.5h-2.4zM562.73 764.0h2.4V781.5h-2.4zM566.15 739.9h2.4V781.5h-2.4zM569.56 725.9h2.4V781.5h-2.4zM572.97 728.2h2.4V781.5h-2.4zM576.38 737.4h2.4V781.5h-2.4zM583.21 729.0h2.4V781.5h-2.4zM590.03 672.6h2.4V781.5h-2.4zM600.27 757.5h2.4V781.5h-2.4zM607.09 760.6h2.4V781.5h-2.4zM610.51 752.5h2.4V781.5h-2.4zM617.33 759.5h2.4V781.5h-2.4zM620.74 749.0h2.4V781.5h-2.4zM624.16 746.7h2.4V781.5h-2.4zM630.98 766.6h2.4V781.5h-2.4zM634.39 764.8h2.4V781.5h-2.4zM637.81 729.2h2.4V781.5h-2.4zM644.63 757.8h2.4V781.5h-2.4zM651.46 768.3h2.4V781.5h-2.4zM654.87 764.1h2.4V781.5h-2.4zM661.69 763.6h2.4V781.5h-2.4zM665.11 759.5h2.4V781.5h-2.4zM671.93 759.5h2.4V781.5h-2.4zM678.76 716.7h2.4V781.5h-2.4zM688.99 713.7h2.4V781.5h-2.4zM695.82 747.8h2.4V781.5h-2.4zM702.64 757.8h2.4V781.5h-2.4zM716.29 736.7h2.4V781.5h-2.4zM719.70 745.3h2.4V781.5h-2.4zM723.12 732.4h2.4V781.5h-2.4zM726.53 750.8h2.4V781.5h-2.4zM729.94 745.7h2.4V781.5h-2.4zM736.77 734.2h2.4V781.5h-2.4zM750.42 705.9h2.4V781.5h-2.4zM753.83 690.8h2.4V781.5h-2.4zM764.07 717.1h2.4V781.5h-2.4zM767.48 722.0h2.4V781.5h-2.4zM770.89 728.7h2.4V781.5h-2.4zM774.30 697.1h2.4V781.5h-2.4zM781.13 717.2h2.4V781.5h-2.4zM784.54 720.7h2.4V781.5h-2.4zM787.95 689.9h2.4V781.5h-2.4zM801.60 740.7h2.4V781.5h-2.4zM805.01 738.2h2.4V781.5h-2.4zM815.25 751.2h2.4V781.5h-2.4zM825.49 755.8h2.4V781.5h-2.4zM835.73 665.1h2.4V781.5h-2.4zM845.96 735.4h2.4V781.5h-2.4zM856.20 757.8h2.4V781.5h-2.4zM863.02 750.8h2.4V781.5h-2.4zM876.67 763.3h2.4V781.5h-2.4zM886.91 767.0h2.4V781.5h-2.4zM890.32 767.8h2.4V781.5h-2.4zM903.97 764.0h2.4V781.5h-2.4zM907.39 759.5h2.4V781.5h-2.4zM917.62 765.3h2.4V781.5h-2.4zM921.04 764.1h2.4V781.5h-2.4zM927.86 769.1h2.4V781.5h-2.4zM931.27 710.1h2.4V781.5h-2.4zM934.69 732.4h2.4V781.5h-2.4zM938.10 729.5h2.4V781.5h-2.4zM941.51 744.8h2.4V781.5h-2.4zM948.33 723.7h2.4V781.5h-2.4zM975.63 742.8h2.4V781.5h-2.4zM982.46 750.3h2.4V781.5h-2.4zM985.87 750.3h2.4V781.5h-2.4zM999.52 759.8h2.4V781.5h-2.4zM1002.93 768.6h2.4V781.5h-2.4zM1030.23 761.6h2.4V781.5h-2.4zM1037.06 768.6h2.4V781.5h-2.4zM1040.47 762.3h2.4V781.5h-2.4zM1043.88 765.3h2.4V781.5h-2.4zM1050.71 752.8h2.4V781.5h-2.4zM1064.36 765.3h2.4V781.5h-2.4zM1067.77 760.6h2.4V781.5h-2.4zM1074.59 762.3h2.4V781.5h-2.4zM1078.01 758.7h2.4V781.5h-2.4zM1081.42 733.4h2.4V781.5h-2.4zM1084.83 732.4h2.4V781.5h-2.4zM1088.24 726.2h2.4V781.5h-2.4zM1095.07 754.0h2.4V781.5h-2.4zM1101.89 717.4h2.4V781.5h-2.4zM1108.72 723.7h2.4V781.5h-2.4zM1112.13 725.4h2.4V781.5h-2.4zM1115.54 701.7h2.4V781.5h-2.4zM1118.95 690.8h2.4V781.5h-2.4zM1122.37 722.7h2.4V781.5h-2.4zM1139.43 736.0h2.4V781.5h-2.4zM1142.84 743.8h2.4V781.5h-2.4zM1149.67 747.7h2.4V781.5h-2.4zM1156.49 725.8h2.4V781.5h-2.4zM1170.14 754.6h2.4V781.5h-2.4zM1173.55 744.4h2.4V781.5h-2.4zM1176.97 755.3h2.4V781.5h-2.4zM1180.38 753.1h2.4V781.5h-2.4z" fill="#8c1f20" stroke="#e62a2a" stroke-width="1"/>
<path d="M2.85 766.5h2.9V781h-2.9zM6.26 765.1h2.9V781h-2.9zM9.67 770.1h2.9V781h-2.9zM33.56 702.9h2.9V781h-2.9zM36.97 726.2h2.9V781h-2.9zM40.39 746.0h2.9V781h-2.9zM47.21 745.2h2.9V781h-2.9zM50.62 754.5h2.9V781h-2.9zM54.04 756.5h2.9V781h-2.9zM64.27 749.8h2.9V781h-2.9zM67.69 746.2h2.9V781h-2.9zM71.10 758.5h2.9V781h-2.9zM81.34 742.7h2.9V781h-2.9zM84.75 752.3h2.9V781h-2.9zM88.16 754.5h2.9V781h-2.9zM91.57 753.5h2.9V781h-2.9zM115.46 732.0h2.9V781h-2.9zM118.87 752.0h2.9V781h-2.9zM122.28 754.0h2.9V781h-2.9zM125.70 754.5h2.9V781h-2.9zM142.76 682.9h2.9V781h-2.9zM149.58 709.9h2.9V781h-2.9zM153.00 727.9h2.9V781h-2.9zM159.82 731.5h2.9V781h-2.9zM166.65 742.8h2.9V781h-2.9zM173.47 542.5h2.9V781h-2.9zM176.88 664.8h2.9V781h-2.9zM183.71 617.9h2.9V781h-2.9zM190.53 711.6h2.9V781h-2.9zM193.94 711.2h2.9V781h-2.9zM197.36 735.7h2.9V781h-2.9zM200.77 736.2h2.9V781h-2.9zM204.18 749.0h2.9V781h-2.9zM211.01 725.4h2.9V781h-2.9zM214.42 732.9h2.9V781h-2.9zM231.48 751.0h2.9V781h-2.9zM234.89 746.2h2.9V781h-2.9zM238.31 731.0h2.9V781h-2.9zM241.72 742.8h2.9V781h-2.9zM245.13 756.2h2.9V781h-2.9zM251.96 738.5h2.9V781h-2.9zM255.37 759.8h2.9V781h-2.9zM258.78 755.7h2.9V781h-2.9zM269.02 759.3h2.9V781h-2.9zM279.25 758.5h2.9V781h-2.9zM286.08 747.3h2.9V781h-2.9zM289.49 757.0h2.9V781h-2.9zM296.32 766.1h2.9V781h-2.9zM309.97 747.0h2.9V781h-2.9zM313.38 753.2h2.9V781h-2.9zM323.62 739.0h2.9V781h-2.9zM330.44 747.3h2.9V781h-2.9zM344.09 746.5h2.9V781h-2.9zM347.50 753.5h2.9V781h-2.9zM364.56 731.2h2.9V781h-2.9zM367.98 736.5h2.9V781h-2.9zM378.21 735.2h2.9V781h-2.9zM381.63 746.8h2.9V781h-2.9zM385.04 743.5h2.9V781h-2.9zM388.45 755.2h2.9V781h-2.9zM395.28 747.8h2.9V781h-2.9zM402.10 732.7h2.9V781h-2.9zM405.51 734.0h2.9V781h-2.9zM408.93 732.7h2.9V781h-2.9zM415.75 721.2h2.9V781h-2.9zM425.99 714.6h2.9V781h-2.9zM429.40 731.2h2.9V781h-2.9zM436.22 739.4h2.9V781h-2.9zM439.64 743.2h2.9V781h-2.9zM443.05 707.4h2.9V781h-2.9zM466.94 748.2h2.9V781h-2.9zM473.76 763.1h2.9V781h-2.9zM477.17 755.7h2.9V781h-2.9zM480.59 757.8h2.9V781h-2.9zM487.41 760.6h2.9V781h-2.9zM494.24 758.2h2.9V781h-2.9zM511.30 760.6h2.9V781h-2.9zM514.71 757.0h2.9V781h-2.9zM521.53 749.8h2.9V781h-2.9zM528.36 752.8h2.9V781h-2.9zM531.77 757.8h2.9V781h-2.9zM538.60 764.0h2.9V781h-2.9zM545.42 759.3h2.9V781h-2.9zM555.66 762.8h2.9V781h-2.9zM559.07 762.8h2.9V781h-2.9zM579.55 749.5h2.9V781h-2.9zM586.37 736.5h2.9V781h-2.9zM593.20 712.4h2.9V781h-2.9zM596.61 725.4h2.9V781h-2.9zM603.43 750.2h2.9V781h-2.9zM613.67 754.8h2.9V781h-2.9zM627.32 750.3h2.9V781h-2.9zM640.97 754.0h2.9V781h-2.9zM647.79 756.5h2.9V781h-2.9zM658.03 760.1h2.9V781h-2.9zM668.27 763.1h2.9V781h-2.9zM675.09 765.1h2.9V781h-2.9zM681.92 741.8h2.9V781h-2.9zM685.33 757.0h2.9V781h-2.9zM692.15 729.5h2.9V781h-2.9zM698.98 741.2h2.9V781h-2.9zM705.80 751.8h2.9V781h-2.9zM709.22 746.8h2.9V781h-2.9zM712.63 743.5h2.9V781h-2.9zM733.10 752.7h2.9V781h-2.9zM739.93 751.8h2.9V781h-2.9zM743.34 743.5h2.9V781h-2.9zM746.75 736.2h2.9V781h-2.9zM756.99 733.7h2.9V781h-2.9zM760.40 746.8h2.9V781h-2.9zM777.46 712.4h2.9V781h-2.9zM791.11 706.1h2.9V781h-2.9zM794.53 731.5h2.9V781h-2.9zM797.94 728.2h2.9V781h-2.9zM808.18 741.2h2.9V781h-2.9zM811.59 732.7h2.9V781h-2.9zM818.41 745.3h2.9V781h-2.9zM821.83 756.0h2.9V781h-2.9zM828.65 754.8h2.9V781h-2.9zM832.06 746.5h2.9V781h-2.9zM838.89 720.7h2.9V781h-2.9zM842.30 739.9h2.9V781h-2.9zM849.13 745.3h2.9V781h-2.9zM852.54 753.7h2.9V781h-2.9zM859.36 754.8h2.9V781h-2.9zM866.19 757.8h2.9V781h-2.9zM869.60 750.3h2.9V781h-2.9zM873.01 756.0h2.9V781h-2.9zM879.84 758.2h2.9V781h-2.9zM883.25 761.1h2.9V781h-2.9zM893.49 772.0h2.9V781h-2.9zM896.90 768.5h2.9V781h-2.9zM900.31 769.0h2.9V781h-2.9zM910.55 762.6h2.9V781h-2.9zM913.96 766.5h2.9V781h-2.9zM924.20 765.6h2.9V781h-2.9zM944.67 746.2h2.9V781h-2.9zM951.50 745.2h2.9V781h-2.9zM954.91 752.8h2.9V781h-2.9zM958.32 754.8h2.9V781h-2.9zM961.73 751.8h2.9V781h-2.9zM965.15 756.0h2.9V781h-2.9zM968.56 748.2h2.9V781h-2.9zM971.97 756.2h2.9V781h-2.9zM978.80 754.8h2.9V781h-2.9zM989.03 752.8h2.9V781h-2.9zM992.45 759.8h2.9V781h-2.9zM995.86 758.2h2.9V781h-2.9zM1006.10 763.1h2.9V781h-2.9zM1009.51 766.1h2.9V781h-2.9zM1012.92 766.5h2.9V781h-2.9zM1016.33 766.5h2.9V781h-2.9zM1019.75 769.0h2.9V781h-2.9zM1023.16 769.0h2.9V781h-2.9zM1026.57 762.0h2.9V781h-2.9zM1033.39 770.6h2.9V781h-2.9zM1047.04 764.0h2.9V781h-2.9zM1053.87 755.7h2.9V781h-2.9zM1057.28 766.1h2.9V781h-2.9zM1060.69 764.5h2.9V781h-2.9zM1070.93 758.5h2.9V781h-2.9zM1091.41 737.7h2.9V781h-2.9zM1098.23 742.3h2.9V781h-2.9zM1105.06 749.3h2.9V781h-2.9zM1125.53 725.3h2.9V781h-2.9zM1128.94 732.1h2.9V781h-2.9zM1132.35 742.0h2.9V781h-2.9zM1135.77 744.8h2.9V781h-2.9zM1146.00 757.1h2.9V781h-2.9zM1152.83 722.4h2.9V781h-2.9zM1159.65 746.0h2.9V781h-2.9zM1163.07 752.1h2.9V781h-2.9zM1166.48 756.6h2.9V781h-2.9zM1183.54 726.9h2.9V781h-2.9zM1186.95 754.7h2.9V781h-2.9z" fill="#38cccc"/>
<polyline points="4.3,769.8 7.7,769.6 11.1,769.8 14.5,769.2 17.9,768.2 21.4,767.6 24.8,766.2 28.2,762.9 31.6,758.5 35.0,755.3 38.4,753.2 41.8,752.0 45.2,750.8 48.7,749.5 52.1,748.7 55.5,748.0 58.9,745.9 62.3,743.8 65.7,742.6 69.1,741.2 72.5,740.8 76.0,739.9 79.4,738.6 82.8,737.9 86.2,738.1 89.6,738.0 93.0,738.7 96.4,741.6 99.8,743.0 103.3,743.2 106.7,743.7 110.1,743.2 113.5,742.7 116.9,742.1 120.3,742.0 123.7,741.8 127.1,743.0 130.6,740.9 134.0,735.7 137.4,729.6 140.8,724.2 144.2,721.0 147.6,719.5 151.0,717.8 154.4,716.6 157.9,715.2 161.3,714.1 164.7,712.6 168.1,714.4 171.5,706.1 174.9,696.5 178.3,692.9 181.7,686.4 185.2,680.7 188.6,676.9 192.0,674.8 195.4,672.6 198.8,674.9 202.2,679.5 205.6,685.6 209.0,688.0 212.5,690.2 215.9,691.1 219.3,693.1 222.7,693.7 226.1,694.2 229.5,694.4 232.9,695.3 236.3,695.5 239.8,704.9 243.2,714.9 246.6,719.5 250.0,727.1 253.4,733.1 256.8,737.3 260.2,739.5 263.6,742.0 267.1,742.5 270.5,743.7 273.9,743.9 277.3,746.4 280.7,748.1 284.1,748.9 287.5,748.7 290.9,749.7 294.4,750.9 297.8,752.5 301.2,753.2 304.6,753.7 308.0,753.9 311.4,754.1 314.8,754.0 318.2,753.7 321.7,752.8 325.1,751.8 328.5,750.4 331.9,749.7 335.3,749.7 338.7,748.9 342.1,748.5 345.5,748.4 349.0,748.1 352.4,748.5 355.8,745.8 359.2,741.8 362.6,738.2 366.0,736.5 369.4,735.1 372.8,733.6 376.3,732.4 379.7,731.8 383.1,731.5 386.5,731.0 389.9,732.7 393.3,733.3 396.7,734.3 400.1,731.1 403.6,730.4 407.0,730.0 410.4,729.4 413.8,728.6 417.2,727.0 420.6,726.2 424.0,724.8 427.4,726.7 430.9,728.7 434.3,727.6 437.7,727.8 441.1,728.6 444.5,728.4 447.9,728.0 451.3,727.2 454.7,727.1 458.1,726.6 461.6,726.6 465.0,725.5 468.4,728.7 471.8,730.0 475.2,731.4 478.6,732.6 482.0,734.0 485.4,735.7 488.9,736.6 492.3,741.4 495.7,743.6 499.1,745.2 502.5,748.0 505.9,748.2 509.3,748.5 512.7,751.1 516.2,752.6 519.6,752.4 523.0,752.9 526.4,752.8 529.8,752.9 533.2,754.5 536.6,755.1 540.0,755.4 543.5,754.8 546.9,755.0 550.3,754.2 553.7,754.2 557.1,754.4 560.5,754.4 563.9,754.7 567.3,753.6 570.8,751.5 574.2,750.7 577.6,750.2 581.0,749.6 584.4,748.2 587.8,748.6 591.2,744.7 594.6,743.1 598.1,741.7 601.5,741.7 604.9,741.2 608.3,741.0 611.7,741.0 615.1,740.8 618.5,741.7 621.9,741.2 625.4,740.4 628.8,739.8 632.2,739.9 635.6,741.1 639.0,741.3 642.4,742.6 645.8,743.6 649.2,744.0 652.7,746.0 656.1,747.3 659.5,751.7 662.9,754.2 666.3,755.9 669.7,756.2 673.1,756.7 676.5,756.9 680.0,755.1 683.4,754.5 686.8,754.4 690.2,752.6 693.6,751.8 697.0,751.6 700.4,750.4 703.8,750.0 707.3,751.2 710.7,750.8 714.1,750.1 717.5,749.1 720.9,748.0 724.3,746.4 727.7,745.9 731.1,745.0 734.6,744.7 738.0,743.2 741.4,742.9 744.8,741.8 748.2,742.8 751.6,741.0 755.0,737.6 758.4,738.7 761.9,739.5 765.3,738.0 768.7,737.0 772.1,735.5 775.5,732.8 778.9,731.1 782.3,729.7 785.7,728.9 789.2,726.2 792.6,724.9 796.0,723.9 799.4,723.1 802.8,722.5 806.2,722.6 809.6,722.1 813.0,721.6 816.5,722.3 819.9,724.3 823.3,727.6 826.7,728.7 830.1,729.1 833.5,730.6 836.9,727.7 840.3,727.3 843.8,729.5 847.2,730.6 850.6,732.1 854.0,733.7 857.4,737.1 860.8,739.6 864.2,740.5 867.6,742.0 871.0,742.5 874.5,743.4 877.9,744.5 881.3,745.8 884.7,746.3 888.1,747.3 891.5,747.9 894.9,748.7 898.3,749.4 901.8,750.5 905.2,755.5 908.6,757.4 912.0,758.5 915.4,760.1 918.8,761.1 922.2,761.6 925.6,762.0 929.1,762.7 932.5,760.7 935.9,759.4 939.3,758.3 942.7,757.7 946.1,756.9 949.5,755.1 952.9,754.3 956.4,753.7 959.8,753.0 963.2,752.0 966.6,751.4 970.0,750.4 973.4,750.0 976.8,749.2 980.2,748.8 983.7,747.9 987.1,747.2 990.5,746.6 993.9,746.4 997.3,745.8 1000.7,748.3 1004.1,750.1 1007.5,751.8 1011.0,752.9 1014.4,753.9 1017.8,756.1 1021.2,757.3 1024.6,758.1 1028.0,758.5 1031.4,758.9 1034.8,759.7 1038.3,760.7 1041.7,760.9 1045.1,762.1 1048.5,762.5 1051.9,762.6 1055.3,762.9 1058.7,763.6 1062.1,763.8 1065.6,764.2 1069.0,764.2 1072.4,763.7 1075.8,763.7 1079.2,763.3 1082.6,761.6 1086.0,759.9 1089.4,757.7 1092.9,756.1 1096.3,755.7 1099.7,754.8 1103.1,752.1 1106.5,751.1 1109.9,749.2 1113.3,747.2 1116.7,744.1 1120.2,741.0 1123.6,739.3 1127.0,737.3 1130.4,735.6 1133.8,734.5 1137.2,733.7 1140.6,732.6 1144.0,731.7 1147.5,731.6 1150.9,732.3 1154.3,731.8 1157.7,731.8 1161.1,732.2 1164.5,732.2 1167.9,732.9 1171.3,734.7 1174.8,734.5 1178.2,736.1 1181.6,737.4 1185.0,738.7 1188.4,741.9" fill="none" stroke="#e01fe0" stroke-width="1.2" stroke-linejoin="round"/>
<polyline points="4.3,771.5 7.7,770.9 11.1,770.9 14.5,769.4 17.9,767.2 21.4,765.8 24.8,762.4 28.2,755.4 31.6,746.0 35.0,738.9 38.4,734.9 41.8,733.0 45.2,730.7 48.7,729.6 52.1,730.2 55.5,730.1 58.9,729.4 62.3,732.2 65.7,739.1 69.1,743.5 72.5,746.7 76.0,746.8 79.4,746.5 82.8,746.3 86.2,746.0 89.6,745.8 93.0,748.0 96.4,751.1 99.8,746.8 103.3,743.0 106.7,740.7 110.1,739.6 113.5,739.0 116.9,737.9 120.3,737.9 123.7,737.8 127.1,737.9 130.6,730.7 134.0,724.5 137.4,716.2 140.8,707.7 144.2,702.3 147.6,700.0 151.0,697.7 154.4,695.3 157.9,692.5 161.3,690.2 164.7,694.5 168.1,704.2 171.5,696.0 174.9,685.4 178.3,683.5 181.7,672.8 185.2,663.6 188.6,658.5 192.0,657.1 195.4,655.1 198.8,655.4 202.2,654.7 205.6,675.2 209.0,690.7 212.5,696.8 215.9,709.4 219.3,722.7 222.7,728.8 226.1,731.4 229.5,733.8 232.9,735.3 236.3,736.3 239.8,734.5 243.2,739.1 246.6,742.2 250.0,744.8 253.4,743.5 256.8,745.7 260.2,747.5 263.6,750.3 267.1,749.7 270.5,751.0 273.9,753.3 277.3,753.8 280.7,754.0 284.1,753.0 287.5,753.9 290.9,753.6 294.4,754.4 297.8,754.7 301.2,756.7 304.6,756.3 308.0,754.6 311.4,754.5 314.8,754.0 318.2,754.5 321.7,751.8 325.1,750.0 328.5,746.5 331.9,744.6 335.3,742.8 338.7,741.5 342.1,742.4 345.5,742.3 349.0,742.3 352.4,742.6 355.8,739.9 359.2,733.7 362.6,730.0 366.0,728.4 369.4,727.4 372.8,725.7 376.3,722.5 379.7,721.4 383.1,720.7 386.5,719.3 389.9,725.5 393.3,732.9 396.7,738.6 400.1,733.9 403.6,733.5 407.0,734.4 410.4,736.4 413.8,735.8 417.2,733.2 420.6,733.1 424.0,724.1 427.4,720.5 430.9,718.8 434.3,721.3 437.7,722.0 441.1,722.9 444.5,720.4 447.9,720.2 451.3,721.3 454.7,721.1 458.1,729.0 461.6,732.7 465.0,732.3 468.4,736.1 471.8,738.0 475.2,740.0 478.6,744.8 482.0,747.8 485.4,750.2 488.9,752.2 492.3,753.8 495.7,754.5 499.1,758.0 502.5,759.8 505.9,758.4 509.3,756.9 512.7,757.4 516.2,757.4 519.6,754.6 523.0,753.5 526.4,751.9 529.8,751.3 533.2,750.9 536.6,750.3 540.0,752.3 543.5,752.6 546.9,752.5 550.3,751.0 553.7,753.9 557.1,755.2 560.5,757.0 563.9,758.1 567.3,756.2 570.8,752.8 574.2,749.1 577.6,747.7 581.0,746.7 584.4,745.4 587.8,743.3 591.2,734.2 594.6,729.2 598.1,725.4 601.5,727.1 604.9,729.6 608.3,732.9 611.7,734.4 615.1,734.9 618.5,738.0 621.9,739.1 625.4,746.6 628.8,750.4 632.2,754.4 635.6,755.1 639.0,753.0 642.4,752.4 645.8,752.9 649.2,753.1 652.7,754.0 656.1,755.5 659.5,756.9 662.9,758.1 666.3,757.4 669.7,757.3 673.1,760.4 676.5,761.5 680.0,757.4 683.4,755.9 686.8,754.8 690.2,749.8 693.6,746.7 697.0,745.1 700.4,743.3 703.8,742.8 707.3,742.0 710.7,740.2 714.1,742.9 717.5,742.4 720.9,741.2 724.3,743.0 727.7,745.1 731.1,744.9 734.6,746.0 738.0,743.7 741.4,743.7 744.8,743.4 748.2,742.6 751.6,739.5 755.0,734.1 758.4,734.3 761.9,733.9 765.3,731.1 768.7,728.0 772.1,727.4 775.5,721.9 778.9,718.8 782.3,716.8 785.7,718.3 789.2,718.2 792.6,715.5 796.0,713.9 799.4,715.1 802.8,717.0 806.2,717.9 809.6,722.4 813.0,724.4 816.5,727.8 819.9,730.3 823.3,737.0 826.7,741.9 830.1,744.2 833.5,746.0 836.9,738.5 840.3,736.8 843.8,736.6 847.2,736.9 850.6,736.3 854.0,737.2 857.4,737.3 860.8,737.2 864.2,736.8 867.6,737.9 871.0,746.5 874.5,750.0 877.9,752.3 881.3,754.6 884.7,756.2 888.1,757.5 891.5,758.5 894.9,760.2 898.3,762.0 901.8,763.2 905.2,764.5 908.6,764.8 912.0,764.8 915.4,765.6 918.8,766.0 922.2,765.7 925.6,765.5 929.1,765.2 932.5,759.3 935.9,755.6 939.3,752.1 942.7,750.6 946.1,749.0 949.5,744.7 952.9,742.7 956.4,741.6 959.8,740.6 963.2,738.9 966.6,743.5 970.0,745.1 973.4,747.9 976.8,747.7 980.2,748.5 983.7,751.2 987.1,751.6 990.5,751.6 993.9,752.1 997.3,752.8 1000.7,753.1 1004.1,755.1 1007.5,755.8 1011.0,758.2 1014.4,759.4 1017.8,761.0 1021.2,762.9 1024.6,764.6 1028.0,764.8 1031.4,765.1 1034.8,766.2 1038.3,766.2 1041.7,766.1 1045.1,765.9 1048.5,765.7 1051.9,764.3 1055.3,762.9 1058.7,762.6 1062.1,762.9 1065.6,763.3 1069.0,762.2 1072.4,761.3 1075.8,761.3 1079.2,760.6 1082.6,757.5 1086.0,755.5 1089.4,752.5 1092.9,749.6 1096.3,748.5 1099.7,746.3 1103.1,741.9 1106.5,741.0 1109.9,737.2 1113.3,733.8 1116.7,730.7 1120.2,726.5 1123.6,726.1 1127.0,724.9 1130.4,722.8 1133.8,722.7 1137.2,725.5 1140.6,724.1 1144.0,726.2 1147.5,729.4 1150.9,734.0 1154.3,737.2 1157.7,737.5 1161.1,739.6 1164.5,741.6 1167.9,743.0 1171.3,744.0 1174.8,744.8 1178.2,746.0 1181.6,745.5 1185.0,743.5 1188.4,746.7" fill="none" stroke="#f08a24" stroke-width="1.2" stroke-linejoin="round"/>
<polyline points="4.3,772.3 7.7,770.6 11.1,769.8 14.5,766.3 17.9,761.2 21.4,759.4 24.8,754.2 28.2,740.9 31.6,725.7 35.0,716.6 38.4,710.4 41.8,711.7 45.2,720.5 48.7,733.5 52.1,743.8 55.5,749.9 58.9,747.1 62.3,743.9 65.7,744.8 69.1,743.1 72.5,743.5 76.0,746.6 79.4,749.2 82.8,747.7 86.2,749.0 89.6,748.2 93.0,749.4 96.4,753.0 99.8,745.9 103.3,737.1 106.7,733.2 110.1,729.9 113.5,725.0 116.9,729.9 120.3,738.7 123.7,742.5 127.1,746.0 130.6,736.5 134.0,719.1 137.4,693.8 140.8,672.9 144.2,658.6 147.6,663.4 151.0,676.4 154.4,696.9 157.9,712.1 161.3,721.8 164.7,725.5 168.1,732.1 171.5,695.2 174.9,658.6 178.3,645.3 181.7,620.0 185.2,595.1 188.6,621.8 192.0,655.6 195.4,664.9 198.8,690.7 202.2,714.3 205.6,728.7 209.0,725.8 212.5,728.7 215.9,728.1 219.3,731.1 222.7,728.9 226.1,737.0 229.5,738.9 232.9,742.5 236.3,741.5 239.8,740.1 243.2,741.2 246.6,745.4 250.0,747.1 253.4,745.6 256.8,751.3 260.2,753.9 263.6,755.1 267.1,752.3 270.5,756.5 273.9,755.2 277.3,753.6 280.7,752.9 284.1,753.7 287.5,751.3 290.9,752.0 294.4,755.1 297.8,756.6 301.2,759.6 304.6,761.3 308.0,757.1 311.4,753.9 314.8,751.3 318.2,749.3 321.7,742.3 325.1,742.8 328.5,739.1 331.9,737.9 335.3,736.3 338.7,740.7 342.1,741.9 345.5,745.6 349.0,746.8 352.4,748.9 355.8,739.1 359.2,725.5 362.6,714.4 366.0,710.0 369.4,705.8 372.8,712.4 376.3,719.4 379.7,728.3 383.1,731.4 386.5,732.8 389.9,738.7 393.3,746.4 396.7,748.9 400.1,736.4 403.6,734.3 407.0,730.0 410.4,726.3 413.8,722.7 417.2,730.0 420.6,731.9 424.0,718.2 427.4,714.6 430.9,715.0 434.3,712.6 437.7,712.0 441.1,727.6 444.5,726.1 447.9,725.5 451.3,729.9 454.7,730.1 458.1,730.5 461.6,739.3 465.0,739.0 468.4,742.4 471.8,745.9 475.2,749.5 478.6,750.4 482.0,756.5 485.4,758.0 488.9,758.6 492.3,758.2 495.7,758.7 499.1,759.6 502.5,761.7 505.9,758.3 509.3,755.7 512.7,756.2 516.2,755.1 519.6,747.6 523.0,748.8 526.4,748.0 529.8,746.5 533.2,746.6 536.6,753.0 540.0,755.8 543.5,757.2 546.9,758.5 550.3,755.3 553.7,754.8 557.1,754.5 560.5,756.8 563.9,757.6 567.3,757.2 570.8,750.8 574.2,743.8 577.6,738.6 581.0,735.8 584.4,733.6 587.8,735.8 591.2,724.7 594.6,719.8 598.1,715.0 601.5,720.7 604.9,723.4 608.3,741.0 611.7,748.9 615.1,754.8 618.5,755.2 621.9,754.9 625.4,752.1 628.8,751.8 632.2,754.0 635.6,755.1 639.0,751.1 642.4,752.7 645.8,754.1 649.2,752.2 652.7,752.9 656.1,759.8 659.5,761.1 662.9,762.2 666.3,762.7 669.7,761.8 673.1,760.9 676.5,761.9 680.0,752.5 683.4,749.0 686.8,747.8 690.2,738.7 693.6,731.5 697.0,737.8 700.4,737.6 703.8,737.7 707.3,745.4 710.7,748.9 714.1,748.1 717.5,747.1 720.9,744.6 724.3,740.6 727.7,741.3 731.1,741.7 734.6,745.0 738.0,742.8 741.4,746.7 744.8,745.4 748.2,743.6 751.6,734.1 755.0,725.4 758.4,721.8 761.9,722.5 765.3,718.6 768.7,721.8 772.1,729.4 775.5,721.9 778.9,715.1 782.3,715.1 785.7,714.8 789.2,707.1 792.6,709.0 796.0,712.8 799.4,715.1 802.8,719.1 806.2,728.7 809.6,735.8 813.0,736.0 816.5,740.5 819.9,741.5 823.3,745.2 826.7,748.0 830.1,752.4 833.5,751.6 836.9,735.4 840.3,728.4 843.8,725.3 847.2,721.3 850.6,721.1 854.0,738.9 857.4,746.2 860.8,749.2 864.2,752.3 867.6,754.8 871.0,754.1 874.5,753.8 877.9,755.4 881.3,757.0 884.7,757.7 888.1,760.9 891.5,763.2 894.9,765.0 898.3,767.1 901.8,768.7 905.2,768.1 908.6,766.4 912.0,764.5 915.4,764.1 918.8,763.3 922.2,763.3 925.6,764.6 929.1,765.8 932.5,754.4 935.9,747.9 939.3,740.9 942.7,736.7 946.1,732.2 949.5,734.9 952.9,737.6 956.4,742.3 959.8,744.4 963.2,745.6 966.6,752.1 970.0,752.7 973.4,753.4 976.8,750.9 980.2,751.5 983.7,750.3 987.1,750.6 990.5,749.9 993.9,753.4 997.3,754.1 1000.7,756.0 1004.1,759.6 1007.5,761.7 1011.0,763.0 1014.4,764.6 1017.8,766.1 1021.2,766.2 1024.6,767.4 1028.0,766.6 1031.4,765.5 1034.8,766.3 1038.3,766.2 1041.7,764.7 1045.1,765.3 1048.5,765.9 1051.9,762.2 1055.3,759.7 1058.7,760.6 1062.1,760.5 1065.6,760.7 1069.0,762.2 1072.4,762.8 1075.8,761.9 1079.2,760.7 1082.6,754.3 1086.0,748.7 1089.4,742.1 1092.9,737.3 1096.3,736.3 1099.7,738.2 1103.1,735.2 1106.5,739.9 1109.9,737.0 1113.3,731.3 1116.7,723.1 1120.2,717.8 1123.6,712.4 1127.0,712.8 1130.4,714.2 1133.8,722.4 1137.2,733.3 1140.6,735.9 1144.0,739.5 1147.5,744.5 1150.9,745.6 1154.3,741.1 1157.7,739.1 1161.1,739.6 1164.5,738.6 1167.9,740.5 1171.3,746.8 1174.8,750.5 1178.2,752.3 1181.6,752.4 1185.0,746.5 1188.4,746.6" fill="none" stroke="#e8e8e8" stroke-width="1.2" stroke-linejoin="round"/>
</g>
<g shape-rendering="auto">
<rect x="62.3" y="372.1" width="13" height="13" fill="#1c82c4"/>
<text x="68.9" y="382.1" font-family="Liberation Sans, sans-serif" font-size="9.2" font-weight="bold" text-anchor="middle" fill="#f4f8fc">F</text>
<rect x="472.0" y="288.0" width="13" height="13" fill="#1c82c4"/>
<text x="478.6" y="298" font-family="Liberation Sans, sans-serif" font-size="9.2" font-weight="bold" text-anchor="middle" fill="#f4f8fc">F</text>
<rect x="772.5" y="126.5" width="13" height="13" fill="#1c82c4"/>
<text x="779.1" y="136.5" font-family="Liberation Sans, sans-serif" font-size="9.2" font-weight="bold" text-anchor="middle" fill="#f4f8fc">F</text>
<rect x="902.3" y="214.0" width="13" height="13" fill="#1c82c4"/>
<text x="908.9" y="224" font-family="Liberation Sans, sans-serif" font-size="9.2" font-weight="bold" text-anchor="middle" fill="#f4f8fc">F</text>
<rect x="656.5" y="227.8" width="13" height="13" fill="#e07a1c"/>
<text x="663.1" y="237.8" font-family="Liberation Sans, sans-serif" font-size="9.2" font-weight="bold" text-anchor="middle" fill="#f4f8fc">D</text>
<rect x="1185.6" y="500.8" width="13" height="13" fill="#9568be"/>
<text x="1192.2" y="510.8" font-family="Liberation Sans, sans-serif" font-size="9.2" font-weight="bold" text-anchor="middle" fill="#f4f8fc">F</text>
<path d="M658 58.5H666M665 58V66.7" stroke="#d40000" fill="none" stroke-width="1"/>
<rect x="664" y="58" width="2" height="8.7" fill="#d40000"/>
<text x="1083.5" y="82.3" font-family="Liberation Sans, sans-serif" font-size="10.6" fill="#ee2d2a">21.11</text>
<path d="M1109 78.5H1120.5M1116.8 74.8L1120.8 78.5L1116.8 82.2" stroke="#ee2d2a" fill="none" stroke-width="1.1"/>
<rect x="1092.8" y="85" width="9.4" height="9" fill="none" stroke="#8a8a8a" stroke-width="1.1"/>
<path d="M1092.8 86.6H1102.2" stroke="#8a8a8a" stroke-width="1.4"/>
<path d="M1109.2 85.8L1116.8 93.6M1116.8 85.8L1109.2 93.6" stroke="#9a9a9a" stroke-width="1.1" fill="none"/>
<rect x="1187.2" y="711.5" width="3" height="43" fill="none" stroke="#f08a24" stroke-width="1" stroke-dasharray="1.5 1.5"/>
<path d="M1222.10 7.50L1222.02 8.18L1221.77 8.83L1221.37 9.41L1220.83 9.87L1220.17 10.20L1220.22 10.93L1220.09 11.63L1219.79 12.26L1219.35 12.80L1218.80 13.22L1218.17 13.49L1217.48 13.60L1216.78 13.54L1216.11 13.30L1215.50 12.89L1214.89 13.30L1214.22 13.54L1213.52 13.60L1212.83 13.49L1212.20 13.22L1211.65 12.80L1211.21 12.26L1210.91 11.63L1210.78 10.93L1210.83 10.20L1210.17 9.87L1209.63 9.41L1209.23 8.83L1208.98 8.18L1208.90 7.50L1208.98 6.82L1209.23 6.17L1209.63 5.59L1210.17 5.13L1210.83 4.80L1210.78 4.07L1210.91 3.37L1211.21 2.74L1211.65 2.20L1212.20 1.78L1212.83 1.51L1213.52 1.40L1214.22 1.46L1214.89 1.70L1215.50 2.11L1216.11 1.70L1216.78 1.46L1217.48 1.40L1218.17 1.51L1218.80 1.78L1219.35 2.20L1219.79 2.74L1220.09 3.37L1220.22 4.07L1220.17 4.80L1220.83 5.13L1221.37 5.59L1221.77 6.17L1222.02 6.82Z" fill="none" stroke="#8e8e8e" stroke-width="1.4" stroke-linejoin="round"/>
<circle cx="1215.5" cy="7.5" r="2.1" fill="none" stroke="#8e8e8e" stroke-width="1.2"/>
<circle cx="1239.4" cy="7.5" r="6.1" fill="none" stroke="#8e8e8e" stroke-width="1.2"/>
<text x="1239.4" y="10.9" font-family="Liberation Sans, sans-serif" font-size="9.2" font-weight="bold" text-anchor="middle" fill="#9a9a9a">?</text>
<path d="M1262.5 3L1257.8 7.4L1262.5 11.6M1266.9 3L1262.2 7.4L1266.9 11.6" fill="none" stroke="#b4b4b4" stroke-width="1.3"/>
<rect x="1255.5" y="22.5" width="14" height="10" fill="none" stroke="#8a8a8a" stroke-width="1"/>
<text x="1257.3" y="30.4" font-family="Liberation Sans, sans-serif" font-size="6.7" font-weight="bold" fill="#9a9a9a">WP</text>
<path d="M1262.1 32.5V34.7M1257.4 34.9H1266.8" stroke="#8a8a8a" stroke-width="1" fill="none"/>
<path d="M1191.1 38.1H1203.9L1197.5 48.2Z" fill="#8c8c8c"/>
<rect x="1211.9" y="40.1" width="9.6" height="7.6" rx="0.8" fill="#f0b432"/>
<path d="M1216.7 42.3V45.6" stroke="#3a2c10" stroke-width="1.3" stroke-linecap="round"/>
<path d="M1220.7 40.2V38.2a2.55 2.55 0 0 1 5.1 0V38.9" fill="none" stroke="#dca42e" stroke-width="1.2"/>
</g>
</svg>
<div class="ax" style="left:1222px;top:490px">10.0</div>
<div class="ax" style="left:1222px;top:415px">12.0</div>
<div class="ax" style="left:1222px;top:340px">14.0</div>
<div class="ax" style="left:1222px;top:264px">16.0</div>
<div class="ax" style="left:1222px;top:188px">18.0</div>
<div class="ax" style="left:1222px;top:113px">20.0</div>
<div class="ax" style="left:1222px;top:772px">0</div>
<div class="ax" style="left:1222px;top:726px">16.9万</div>
<div class="ax" style="left:1222px;top:678px">33.8万</div>
<div class="ax" style="left:1222px;top:630px">50.7万</div>
<div class="ax" style="left:1222px;top:583px">67.6万</div>
<div class="ax" style="left:1222px;top:535px">84.5万</div>
<div class="ax" style="left:4px;top:784px">24-09</div>
<div class="ax" style="left:93px;top:784px">24-11</div>
<div class="ax" style="left:165px;top:784px">24-12</div>
<div class="ax" style="left:240px;top:784px">25-01</div>
<div class="ax" style="left:301px;top:784px">25-02</div>
<div class="ax" style="left:363px;top:784px">25-03</div>
<div class="ax" style="left:434px;top:784px">25-04</div>
<div class="ax" style="left:506px;top:784px">25-05</div>
<div class="ax" style="left:571px;top:784px">25-06</div>
<div class="ax" style="left:639px;top:784px">25-07</div>
<div class="ax" style="left:717px;top:784px">25-08</div>
<div class="ax" style="left:789px;top:784px">25-09</div>
<div class="ax" style="left:864px;top:784px">25-10</div>
<div class="ax" style="left:922px;top:784px">25-11</div>
<div class="ax" style="left:990px;top:784px">25-12</div>
<div class="ax" style="left:1069px;top:784px">26-01</div>
<div class="ax" style="left:1137px;top:784px">26-02</div>
<div class="ax" style="left:1185px;top:784px">26-03</div>
<div class="q">?</div>
<div class="lg" style="left:20px;color:#e4e4e4">VOL:9.24万MA5:12.20万</div>
<div class="lg" style="left:146px;color:#f08a24">MA10:12.08万</div>
<div class="lg" style="left:220px;color:#e01fe0">MA20:13.76万</div>
<div id="pop">
<div class="ph">2025/12/17 <svg class="ar" width="13" height="9" viewBox="0 0 13 9"><path d="M5.2 0.5V8.5L0.3 4.5ZM7.8 0.5V8.5L12.7 4.5Z" fill="#d4d4d4"/></svg> - 2026/01/27 <svg class="ar" width="13" height="9" viewBox="0 0 13 9"><path d="M5.2 0.5V8.5L0.3 4.5ZM7.8 0.5V8.5L12.7 4.5Z" fill="#d4d4d4"/></svg>&nbsp;&nbsp; (28日)</div>
<svg class="px" width="9" height="9" viewBox="0 0 9 9"><path d="M0.5 0.5L8.5 8.5M8.5 0.5L0.5 8.5" stroke="#9a9a9a" fill="none"/></svg>
<div class="pl"></div>
<div class="pr" style="top:23.0px"><span class="a">涨跌幅:</span><span class="b" style="color:#f0302c">27.54%</span><span class="c">年化收益率:</span><span class="d" style="color:#f0302c">777.48%</span></div>
<div class="pr" style="top:38.5px"><span class="a">行业对比</span><span class="b" style="color:#e4e4e4">0.00%</span><span class="c">最大回撤:</span><span class="d" style="color:#1fb84f">-5.90%</span></div>
<div class="pr" style="top:54.0px"><span class="a">涨 跌:</span><span class="b" style="color:#f0302c">4.42</span><span class="c">开盘价:</span><span class="d" style="color:#f0302c">16.18</span></div>
<div class="pr" style="top:69.5px"><span class="a">收盘价:</span><span class="b" style="color:#f0302c">20.47</span><span class="c">最高价:</span><span class="d" style="color:#f0302c">21.11</span></div>
<div class="pr" style="top:85.0px"><span class="a">均 价:</span><span class="b" style="color:#f0302c">18.05</span><span class="c">最低价:</span><span class="d" style="color:#f0302c">16.05</span></div>
<div class="pr" style="top:100.5px"><span class="a">振 幅:</span><span class="b" style="color:#f0302c">31.53%</span><span class="c">阳 线:</span><span class="d" style="color:#f0302c">18</span></div>
<div class="pr" style="top:116.0px"><span class="a">成交额:</span><span class="b" style="color:#e4e4e4">62.18亿</span><span class="c">阴 线:</span><span class="d" style="color:#1fb84f">10</span></div>
<div class="pr" style="top:131.5px"><span class="a">成交量:</span><span class="b" style="color:#e4e4e4">344.55万</span><span class="c">平 线:</span><span class="d" style="color:#e4e4e4">0</span></div>
<div class="pr" style="top:147.0px"><span class="a">区间换手:</span><span class="b" style="color:#e4e4e4">76.57%</span><span class="c">最大量:</span><span class="d" style="color:#e4e4e4">31.99万</span></div>
<div class="pr" style="top:162.5px"><span class="a">日均换手:</span><span class="b" style="color:#e4e4e4">2.73%</span><span class="c">最小量:</span><span class="d" style="color:#e4e4e4">3.46万</span></div>
</div>
</div>
</body></html>
